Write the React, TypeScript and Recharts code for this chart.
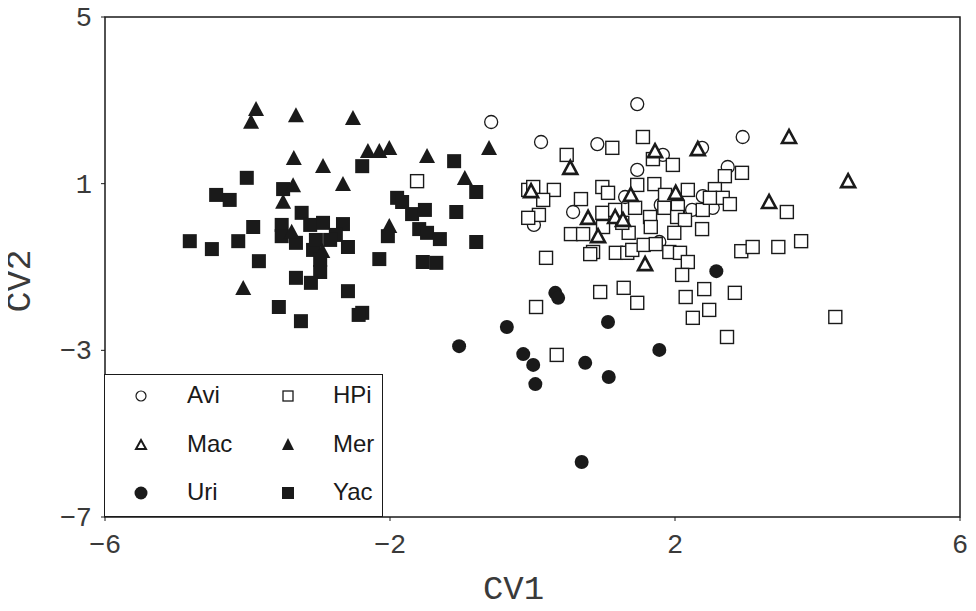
import { ScatterChart, Scatter, XAxis, YAxis, ReferenceArea, Legend } from 'recharts';

// CV1 / CV2 scores per group
const avi: [number, number][] = [
  [-0.58, 2.48], [1.47, 2.91], [0.12, 2.0], [0.91, 1.95], [2.95, 2.12], [2.38, 1.86],
  [1.83, 1.69], [1.47, 1.33], [2.74, 1.4], [0.57, 0.32], [0.02, 0.01], [1.3, 0.68],
  [1.8, 0.49], [2.39, 0.7], [2.24, 0.37], [2.53, 0.42], [1.78, -0.4],
];

const hpi: [number, number][] = [
  [1.55, 2.12], [1.12, 1.86], [0.48, 1.69], [1.69, 1.59], [1.97, 1.45], [2.94, 1.26],
  [2.7, 1.18], [-0.06, 0.85], [0.01, 0.92], [0.3, 0.85], [0.15, 0.61], [0.68, 0.63],
  [0.09, 0.25], [-0.06, 0.18], [0.98, 0.92], [1.06, 0.78], [1.47, 0.97], [1.71, 0.99],
  [2.18, 0.85], [2.56, 0.87], [1.86, 0.73], [2.67, 0.66], [2.77, 0.51], [2.39, 0.37],
  [0.98, 0.3], [1.44, 0.42], [1.85, 0.42], [2.04, 0.44], [1.65, 0.2], [2.03, 0.2],
  [2.14, 0.13], [0.54, -0.21], [0.71, -0.21], [1.35, -0.18], [1.66, -0.04], [1.99, -0.18],
  [2.38, -0.09], [1.26, 0.06], [0.85, -0.64], [0.81, -0.69], [1.17, -0.66], [1.33, -0.66],
  [1.4, -0.59], [1.56, -0.47], [1.73, -0.45], [1.92, -0.64], [2.07, -0.66], [2.18, -0.88],
  [2.1, -1.19], [0.19, -0.78], [2.93, -0.62], [3.09, -0.52], [3.45, -0.52], [3.77, -0.38],
  [3.57, 0.32], [0.95, -1.6], [1.28, -1.5], [1.47, -1.86], [0.05, -1.96], [2.15, -1.72],
  [2.41, -1.53], [2.84, -1.62], [2.48, -2.03], [2.25, -2.22], [2.73, -2.68], [0.34, -3.11],
  [4.25, -2.2], [-1.62, 1.06], [2.49, 0.66], [0.99, -0.04], [1.16, 0.37],
];

const mac: [number, number][] = [
  [3.6, 2.12], [2.32, 1.83], [1.72, 1.78], [0.53, 1.38], [-0.02, 0.82], [1.38, 0.73],
  [2.01, 0.78], [3.32, 0.56], [0.78, 0.18], [1.16, 0.2], [1.27, 0.13], [0.92, -0.26],
  [1.58, -0.93], [4.43, 1.06],
];

const mer: [number, number][] = [
  [-3.88, 2.77], [-3.95, 2.46], [-3.32, 2.62], [-2.52, 2.55], [-0.61, 1.83], [-3.35, 1.59],
  [-2.94, 1.4], [-2.31, 1.76], [-2.15, 1.76], [-2.01, 1.83], [-1.48, 1.64], [-0.95, 1.11],
  [-3.36, 0.94], [-2.66, 0.97], [-3.5, 0.54], [-2.01, -0.04], [-3.38, -0.18], [-2.95, -0.64],
  [-4.06, -1.53],
];

const uri: [number, number][] = [
  [2.58, -1.1], [0.32, -1.62], [0.36, -1.74], [-0.36, -2.44], [1.06, -2.32], [-1.03, -2.9],
  [-0.13, -3.09], [0.01, -3.35], [0.04, -3.81], [0.74, -3.3], [1.07, -3.64], [1.78, -2.99],
  [0.69, -5.68],
];

const yac: [number, number][] = [
  [-4.01, 1.14], [-4.44, 0.73], [-4.25, 0.61], [-3.5, 0.87], [-4.81, -0.38], [-4.5, -0.57],
  [-4.13, -0.38], [-3.92, -0.04], [-3.84, -0.86], [-3.52, 0.01], [-3.52, -0.26], [-3.32, -0.42],
  [-3.24, 0.3], [-3.12, 0.01], [-2.94, 0.06], [-2.66, 0.03], [-2.76, -0.23], [-2.59, -0.52],
  [-3.08, -0.59], [-2.98, -0.83], [-2.98, -1.12], [-3.32, -1.26], [-3.11, -1.38], [-2.59, -1.58],
  [-3.56, -1.96], [-3.25, -2.3], [-2.39, -2.1], [-2.44, -2.15], [-2.39, 1.42], [-2.15, -0.81],
  [-1.9, 0.66], [-1.83, 0.56], [-1.69, 0.27], [-1.51, 0.37], [-1.59, -0.09], [-1.48, -0.18],
  [-1.3, -0.33], [-2.03, -0.26], [-1.54, -0.88], [-1.35, -0.9], [-1.1, 1.54], [-0.79, 0.8],
  [-1.07, 0.32], [-0.79, -0.4], [-2.84, -0.35], [-3.04, -0.35],
];

const xTicks = [-6, -2, 2, 6];
const yTicks = [-7, -3, 1, 5];

const toPoints = (pts: [number, number][]) => pts.map(([x, y]) => ({ x, y }));

const INK = '#1a1a1a';
const monoFont = '"Liberation Mono", "DejaVu Sans Mono", monospace';
const monoStyle = { fontFamily: monoFont, fill: '#3a3a3a' };

const OpenCircle = (p: any) => (
  <circle cx={p.cx} cy={p.cy} r={6.5} fill="#fff" stroke={INK} strokeWidth={1.3} />
);
const OpenSquare = (p: any) => (
  <rect x={p.cx - 6.5} y={p.cy - 6.5} width={13} height={13} fill="#fff" stroke={INK} strokeWidth={1.4} />
);
const OpenTriangle = (p: any) => (
  <polygon
    points={`${p.cx},${p.cy - 7} ${p.cx - 7},${p.cy + 6} ${p.cx + 7},${p.cy + 6}`}
    fill="#fff"
    stroke={INK}
    strokeWidth={2.6}
    strokeLinejoin="miter"
  />
);
const FilledTriangle = (p: any) => (
  <polygon points={`${p.cx},${p.cy - 9} ${p.cx - 8},${p.cy + 6} ${p.cx + 8},${p.cy + 6}`} fill={INK} />
);
const FilledCircle = (p: any) => <circle cx={p.cx} cy={p.cy} r={7} fill={INK} />;
const FilledSquare = (p: any) => (
  <rect x={p.cx - 7} y={p.cy - 7} width={14} height={14} fill={INK} />
);

const fmt = (v: number) => String(v).replace('-', '\u2212');

const XTick = (p: any) => (
  <text x={p.x} y={p.y} dy={20} textAnchor="middle" fontSize={27} style={monoStyle}>
    {fmt(p.payload.value)}
  </text>
);
const YTick = (p: any) => (
  <text x={p.x} y={p.y} dy={9} textAnchor="end" fontSize={27} style={monoStyle}>
    {fmt(p.payload.value)}
  </text>
);

const XTitle = (p: any) => {
  const vb = p.viewBox;
  return (
    <text x={vb.x + vb.width / 2 - 19} y={vb.y + 82} textAnchor="middle" fontSize={34} style={monoStyle}>
      CV1
    </text>
  );
};
const YTitle = (p: any) => {
  const vb = p.viewBox;
  const cx = vb.x + 21;
  const cy = vb.y + vb.height / 2 + 14;
  return (
    <text
      x={cx}
      y={cy}
      transform={`rotate(-90 ${cx} ${cy})`}
      textAnchor="middle"
      dominantBaseline="central"
      fontSize={35}
      style={monoStyle}
    >
      CV2
    </text>
  );
};

const legendRows = [
  ['Avi', 'open-circle', 'HPi', 'open-square'],
  ['Mac', 'open-triangle', 'Mer', 'filled-triangle'],
  ['Uri', 'filled-circle', 'Yac', 'filled-square'],
];

function LegendMark({ kind }: { kind: string }) {
  let mark = null;
  if (kind === 'open-circle') mark = <circle cx={8} cy={8} r={5} fill="#fff" stroke={INK} strokeWidth={1.2} />;
  if (kind === 'open-square') mark = <rect x={3} y={3} width={10} height={10} fill="#fff" stroke={INK} strokeWidth={1.3} />;
  if (kind === 'open-triangle') mark = <polygon points="8,3 3,12 13,12" fill="#fff" stroke={INK} strokeWidth={2} />;
  if (kind === 'filled-triangle') mark = <polygon points="8,1 2,13 14,13" fill={INK} />;
  if (kind === 'filled-circle') mark = <circle cx={8} cy={8} r={6.5} fill={INK} />;
  if (kind === 'filled-square') mark = <rect x={2} y={2} width={12} height={12} fill={INK} />;
  return (
    <svg width={16} height={16} style={{ display: 'block' }}>
      {mark}
    </svg>
  );
}

function LegendBox() {
  return (
    <div
      style={{
        width: 279,
        height: 143,
        border: `1.5px solid ${INK}`,
        background: '#fff',
        boxSizing: 'border-box',
        position: 'relative',
        fontFamily: '"Liberation Sans", Arial, sans-serif',
        fontSize: 24,
        color: INK,
      }}
    >
      {legendRows.map((row, i) => (
        <div key={i}>
          <div style={{ position: 'absolute', left: 28, top: 13 + i * 48.5 }}>
            <LegendMark kind={row[1]} />
          </div>
          <div style={{ position: 'absolute', left: 82, top: 5 + i * 48.5, lineHeight: '30px' }}>{row[0]}</div>
          <div style={{ position: 'absolute', left: 175, top: 13 + i * 48.5 }}>
            <LegendMark kind={row[3]} />
          </div>
          <div style={{ position: 'absolute', left: 228, top: 5 + i * 48.5, lineHeight: '30px' }}>{row[2]}</div>
        </div>
      ))}
    </div>
  );
}

export default function App() {
  return (
    <div style={{ width: 976, height: 611, margin: '-8px 0 0 -8px', background: '#fff' }}>
      <ScatterChart width={976} height={611} margin={{ top: 17, right: 16, left: 0, bottom: 0 }}>
        <XAxis
          type="number"
          dataKey="x"
          domain={[-6, 6]}
          ticks={xTicks}
          axisLine={false}
          tickSize={4}
          tickMargin={12}
          height={94}
          tick={<XTick />}
          tickLine={{ stroke: INK }}
          label={<XTitle />}
        />
        <YAxis
          type="number"
          dataKey="y"
          domain={[-7, 5]}
          ticks={yTicks}
          axisLine={false}
          tickSize={4}
          tickMargin={9}
          width={105}
          tick={<YTick />}
          tickLine={{ stroke: INK }}
          label={<YTitle />}
        />
        <ReferenceArea x1={-6} x2={6} y1={-7} y2={5} fill="none" stroke={INK} strokeWidth={1.5} ifOverflow="visible" />
        <Scatter name="Avi" data={toPoints(avi)} shape={OpenCircle} isAnimationActive={false} />
        <Scatter name="HPi" data={toPoints(hpi)} shape={OpenSquare} isAnimationActive={false} />
        <Scatter name="Mac" data={toPoints(mac)} shape={OpenTriangle} isAnimationActive={false} />
        <Scatter name="Yac" data={toPoints(yac)} shape={FilledSquare} isAnimationActive={false} />
        <Scatter name="Mer" data={toPoints(mer)} shape={FilledTriangle} isAnimationActive={false} />
        <Scatter name="Uri" data={toPoints(uri)} shape={FilledCircle} isAnimationActive={false} />
        <Legend
          layout="vertical"
          align="center"
          verticalAlign="middle"
          content={() => <LegendBox />}
          wrapperStyle={{ position: 'absolute', left: 104, top: 374, width: 279, height: 143 }}
        />
      </ScatterChart>
    </div>
  );
}
